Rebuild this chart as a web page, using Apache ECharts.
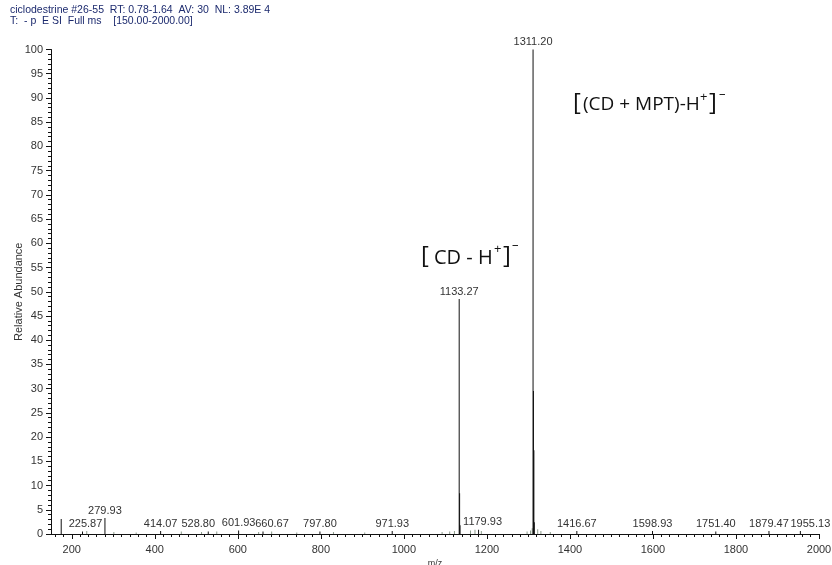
<!DOCTYPE html>
<html>
<head>
<meta charset="utf-8">
<script src="https://cdn.jsdelivr.net/npm/echarts@6/dist/echarts.min.js"></script>
<style>
  html, body { margin: 0; padding: 0; background: #fff; }
  #chart { width: 832px; height: 565px; }
</style>
</head>
<body>
<div id="chart"></div>
<script>
// Centroid peaks of the negative-mode ESI spectrum (m/z, relative abundance %)
const peakMz        = [174.6, 225.87, 279.93, 414.07, 528.80, 601.93, 660.67, 797.80, 971.93,
                       1133.27, 1134.27, 1135.27, 1179.93,
                       1311.20, 1312.20, 1313.20, 1314.20,
                       1416.67, 1598.93, 1751.40, 1879.47, 1955.13];
const peakAbundance = [3.1, 0.5, 3.3, 0.6, 0.5, 0.7, 0.5, 0.5, 0.6,
                       48.5, 8.4, 1.8, 0.9,
                       100, 29.5, 17.3, 2.4,
                       0.6, 0.6, 0.5, 0.6, 0.6];

// Low-level background peaks (unlabelled)
const noiseMz        = [236.1, 301.4, 355.2, 463.9, 512.6, 549.3, 650.2, 681.5, 742.0, 830.4,
                        905.7, 1092.1, 1110.4, 1121.8, 1160.5, 1171.3, 1186.6, 1296.8, 1305.1,
                        1309.2, 1322.4, 1330.1, 1352.7];
const noiseAbundance = [0.6, 0.4, 0.3, 0.5, 0.4, 0.5, 0.4, 0.5, 0.3, 0.4,
                        0.3, 0.4, 0.5, 0.6, 0.7, 0.9, 0.6, 0.5, 0.7,
                        1.2, 1.0, 0.6, 0.4];

// Peaks that carry an m/z label
const labelledMz = [225.87, 279.93, 414.07, 528.80, 601.93, 660.67, 797.80, 971.93,
                    1133.27, 1179.93, 1311.20, 1416.67, 1598.93, 1751.40, 1879.47, 1955.13];

// Axis tick values
const xLabelValues = [200, 400, 600, 800, 1000, 1200, 1400, 1600, 1800, 2000];
const xMinorValues = [];
for (let v = 160; v <= 2000; v += 20) xMinorValues.push(v);

// Header lines
const headerLines = [
  'ciclodestrine #26-55  RT: 0.78-1.64  AV: 30  NL: 3.89E 4',
  'T:  - p  E SI  Full ms    [150.00-2000.00]'
];

// Nudges for labels that would otherwise collide
const labelNudge = { 225.87: [3, 0], 528.80: [-10, 0], 660.67: [9, 0], 1179.93: [4, 0], 1955.13: [10, 0] };

const peakData = peakMz.map((mz, i) => {
  const item = { value: [mz, peakAbundance[i]] };
  if (labelledMz.includes(mz)) {
    item.label = { show: true, offset: labelNudge[mz] || [0, 0] };
  }
  return item;
});
const noiseData = noiseMz.map((mz, i) => [mz, noiseAbundance[i]]);

const chart = echarts.init(document.getElementById('chart'), null, { renderer: 'canvas' });

const FONT = 'Liberation Sans, Arial, sans-serif';
const axisFont = { fontFamily: FONT, fontSize: 11, color: '#333' };

chart.setOption({
  animation: false,
  backgroundColor: '#fff',
  grid: { left: 51, right: 13, top: 49.5, bottom: 31, containLabel: false, outerBoundsMode: 'none' },
  xAxis: [{
    type: 'value', min: 150, max: 2000,
    name: 'm/z', nameLocation: 'middle', nameGap: 25, nameMoveOverlap: false,
    nameTextStyle: { fontFamily: FONT, fontSize: 9, color: '#333' },
    axisLine: { show: true, lineStyle: { color: '#111', width: 1 } },
    axisTick: { show: true, length: 5, customValues: xLabelValues, lineStyle: { color: '#111' } },
    axisLabel: Object.assign({ customValues: xLabelValues, margin: 10, formatter: v => String(v) }, axisFont),
    splitLine: { show: false }
  }, {
    type: 'value', min: 150, max: 2000, position: 'bottom',
    axisLine: { show: false },
    axisTick: { show: true, length: 3, customValues: xMinorValues, lineStyle: { color: '#111' } },
    axisLabel: { show: false },
    splitLine: { show: false }
  }],
  yAxis: {
    type: 'value', min: 0, max: 100, interval: 5,
    name: 'Relative Abundance', nameLocation: 'middle', nameGap: 27, nameRotate: 90, nameMoveOverlap: false,
    nameTextStyle: { fontFamily: FONT, fontSize: 11, color: '#333' },
    axisLine: { show: true, lineStyle: { color: '#111', width: 1 } },
    axisTick: { show: true, length: 5, lineStyle: { color: '#111' } },
    minorTick: { show: true, splitNumber: 5, length: 3, lineStyle: { color: '#111' } },
    axisLabel: Object.assign({ margin: 8 }, axisFont),
    splitLine: { show: false }
  },
  series: [{
    type: 'bar',
    name: 'noise',
    xAxisIndex: 0,
    barWidth: 1,
    itemStyle: { color: '#8a9a8a' },
    data: noiseData,
    silent: true
  }, {
    type: 'bar',
    name: 'spectrum',
    xAxisIndex: 0,
    barWidth: 1,
    barGap: '-100%',
    itemStyle: { color: '#111' },
    label: {
      show: false, position: 'top', distance: 2,
      fontFamily: FONT, fontSize: 11, color: '#333',
      formatter: p => p.value[0].toFixed(2)
    },
    data: peakData
  }],
  graphic: [
    { type: 'text', left: 10, top: 5, style: { text: headerLines[0], font: '10.5px "Liberation Sans", Arial, sans-serif', fill: '#1c2a6e' } },
    { type: 'text', left: 10, top: 16, style: { text: headerLines[1], font: '10.5px "Liberation Sans", Arial, sans-serif', fill: '#1c2a6e' } },
    // [CD - H+]-
    { type: 'text', x: 421, y: 244, style: { text: '[', font: '24px "Open Sans", sans-serif', fill: '#111' } },
    { type: 'text', x: 434, y: 248, style: { text: 'CD - H', font: '20px "Open Sans", sans-serif', fill: '#111' } },
    { type: 'text', x: 494, y: 243, style: { text: '+', font: '13px "Open Sans", sans-serif', fill: '#111' } },
    { type: 'text', x: 503, y: 244, style: { text: ']', font: '24px "Open Sans", sans-serif', fill: '#111' } },
    { type: 'text', x: 512, y: 239, style: { text: '\u2013', font: '13px "Open Sans", sans-serif', fill: '#111' } },
    // [(CD + MPT)-H+]-
    { type: 'text', x: 573, y: 91, style: { text: '[', font: '24px "Open Sans", sans-serif', fill: '#111' } },
    { type: 'text', x: 583, y: 95, style: { text: '(CD + MPT)-H', font: '19px "Open Sans", sans-serif', fill: '#111' } },
    { type: 'text', x: 700, y: 91, style: { text: '+', font: '13px "Open Sans", sans-serif', fill: '#111' } },
    { type: 'text', x: 709, y: 91, style: { text: ']', font: '24px "Open Sans", sans-serif', fill: '#111' } },
    { type: 'text', x: 719, y: 88, style: { text: '\u2013', font: '13px "Open Sans", sans-serif', fill: '#111' } }
  ]
});
</script>
</body>
</html>
